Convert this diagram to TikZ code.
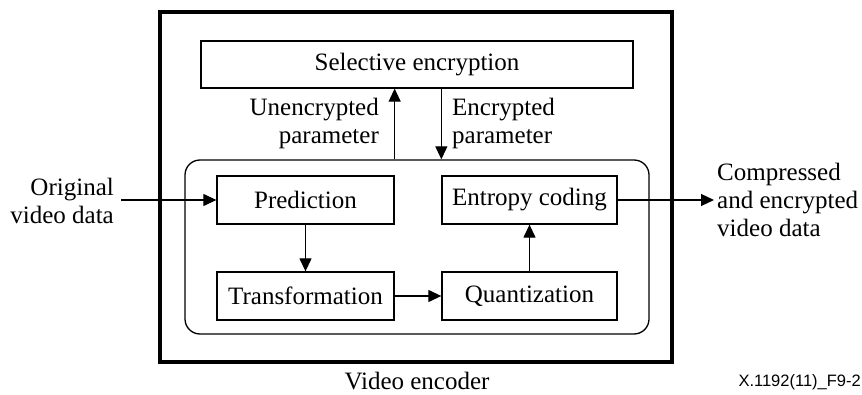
\documentclass[tikz,border=0pt]{standalone}
\usepackage{fontspec}
\setmainfont{Liberation Serif}
\newfontfamily\figlabelfont{Liberation Sans}
\usetikzlibrary{arrows.meta}

\begin{document}
\begin{tikzpicture}[x=1pt,y=-1pt,
  stagebox/.style={draw, line width=1.3pt, inner sep=0pt, minimum height=48pt},
  conn/.style={line width=1.2pt, -{Triangle[length=13pt,width=12pt]}},
  txt/.style={inner sep=0pt},
  font=\fontsize{25}{28}\selectfont]
\useasboundingbox (0,0) rectangle (862,395);

% encoder frame and its inner processing block
\node[draw, line width=4pt, minimum width=512pt, minimum height=350pt, inner sep=0pt] (enc) at (416,187) {};
\node[draw, line width=1.3pt, rounded corners=15pt, minimum width=464pt, minimum height=174pt, inner sep=0pt] (core) at (417,247) {};

% stages
\node[stagebox, minimum width=432pt, minimum height=47pt] (sel) at (417,64.5) {Selective encryption};
\node[stagebox, minimum width=177pt] (pred) at (305.5,200) {Prediction};
\node[stagebox, minimum width=175pt] (ent)  at (529.5,200) {Entropy coding};
\node[stagebox, minimum width=177pt] (trf)  at (305.5,296) {Transformation};
\node[stagebox, minimum width=175pt] (qnt)  at (529.5,296) {Quantization};

% data flow
\coordinate (in)  at (121,200);
\coordinate (out) at (714,200);
\draw[conn] (in) -- (pred.west);
\draw[conn] (pred.south) -- (trf.north);
\draw[conn] (trf.east) -- (qnt.west);
\draw[conn] (qnt.north) -- (ent.south);
\draw[conn] (ent.east) -- (out);
\draw[conn] (core.north -| pred.east) -- (sel.south -| pred.east);
\draw[conn] (sel.south -| ent.west) -- (core.north -| ent.west);

% labels
\node[txt, anchor=east, align=right] (unenc) at (379,123) {Unencrypted\\parameter};
\node[txt, anchor=west, align=left]  (encp)  at (452,123) {Encrypted\\parameter};
\node[txt, anchor=east, align=right] (orig)  at (114,201) {Original\\video data};
\node[txt, anchor=west, align=left]  (comp)  at (717,200) {Compressed\\and encrypted\\video data};
\node[txt] (encname) at (417,381.5) {Video encoder};
\node[txt, anchor=east, font=\figlabelfont\fontsize{16.5}{18}\selectfont] (figid) at (861,382) {X.1192(11)\_F9-2};
\end{tikzpicture}
\end{document}
